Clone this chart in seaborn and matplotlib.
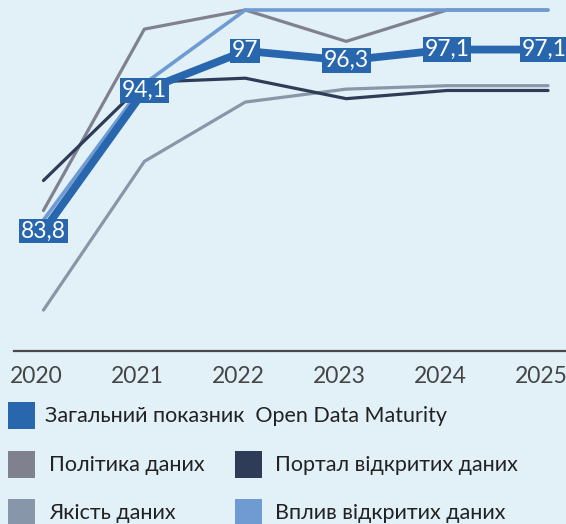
import matplotlib
matplotlib.use('Agg')
import matplotlib.pyplot as plt
import matplotlib.transforms as mtransforms
import seaborn as sns
import pandas as pd
from matplotlib.patches import Rectangle

# Data
years = [2020, 2021, 2022, 2023, 2024, 2025]
overall = [83.8, 94.1, 97.0, 96.3, 97.1, 97.1]
policy = [85.3, 98.6, 100.0, 97.7, 100.0, 100.0]
portal = [87.5, 94.7, 95.0, 93.5, 94.1, 94.1]
quality = [78.0, 88.9, 93.25, 94.2, 94.45, 94.45]
impact = [84.6, 94.6, 100.0, 100.0, 100.0, 100.0]
overall_labels = ['83,8', '94,1', '97', '96,3', '97,1', '97,1']

legend_labels = ['Загальний показник  Open Data Maturity', 'Політика даних',
                 'Портал відкритих даних', 'Якість даних', 'Вплив відкритих даних']

bg = '#e2f0f8'
c_overall = '#2866ae'
c_policy = '#7f818f'
c_portal = '#2e3c57'
c_quality = '#8896a9'
c_impact = '#6f9bd2'

sns.set_theme(style='white')
plt.rcParams['font.family'] = ['Lato', 'Noto Sans', 'DejaVu Sans']

fig = plt.figure(figsize=(5.66, 5.24), dpi=100, facecolor=bg)
ax = fig.add_axes([14 / 566, 1 - 351 / 524, 1 - 14 / 566, 341 / 524])
ax.set_facecolor(bg)

df = pd.DataFrame({'year': years, 'overall': overall, 'policy': policy,
                   'portal': portal, 'quality': quality, 'impact': impact})

series = [('quality', c_quality, 2.3), ('policy', c_policy, 2.3),
          ('portal', c_portal, 2.3), ('impact', c_impact, 2.6),
          ('overall', c_overall, 5.6)]
for i, (col, color, lw) in enumerate(series):
    sns.lineplot(data=df, x='year', y=col, color=color, linewidth=lw, ax=ax,
                 solid_capstyle='round', zorder=2 + i, clip_on=False)

for k, (x, y, lab) in enumerate(zip(years, overall, overall_labels)):
    t = ax.text(x, y, lab, ha='center', va='center', color='white', fontsize=16.5,
                zorder=10, bbox=dict(boxstyle='square,pad=0.08', fc=c_overall, ec='none'))
    if k == len(years) - 1:
        # last label is nudged in so it stays inside the picture
        t.set_transform(ax.transData + mtransforms.ScaledTranslation(-4 / 100, 0, fig.dpi_scale_trans))

ax.set_xlim(2019.708, 2025.178)
ax.set_ylim(75, 100)
ax.set_xticks(years)
ax.set_xticklabels([str(y) for y in years], fontsize=16.5, color='#454545')
ax.set_yticks([])
ax.set_xlabel('')
ax.set_ylabel('')
for s in ['top', 'right', 'left']:
    ax.spines[s].set_visible(False)
ax.spines['bottom'].set_color('#4a4a4a')
ax.spines['bottom'].set_linewidth(1.6)
ax.tick_params(axis='x', length=0, pad=11)

# tick labels sit a little left of the points in the original
shift = mtransforms.ScaledTranslation(-7 / 100, 0, fig.dpi_scale_trans)
for lbl in ax.get_xticklabels():
    lbl.set_transform(lbl.get_transform() + shift)

# Legend
leg_colors = [c_overall, c_policy, c_portal, c_quality, c_impact]
leg_pos = [(8, 402, 45), (8, 451, 49), (235, 451, 275), (8, 499, 49), (235, 499, 275)]
for lab, color, (sx, sy, tx) in zip(legend_labels, leg_colors, leg_pos):
    fig.add_artist(Rectangle((sx / 566, 1 - (sy + 27) / 524), 27 / 566, 27 / 524,
                             transform=fig.transFigure, fc=color, ec='none'))
    fig.text(tx / 566, 1 - (sy + 14) / 524, lab, ha='left', va='center',
             fontsize=15.5, color='#222222')

fig.savefig('out.png', dpi=100, facecolor=bg)
